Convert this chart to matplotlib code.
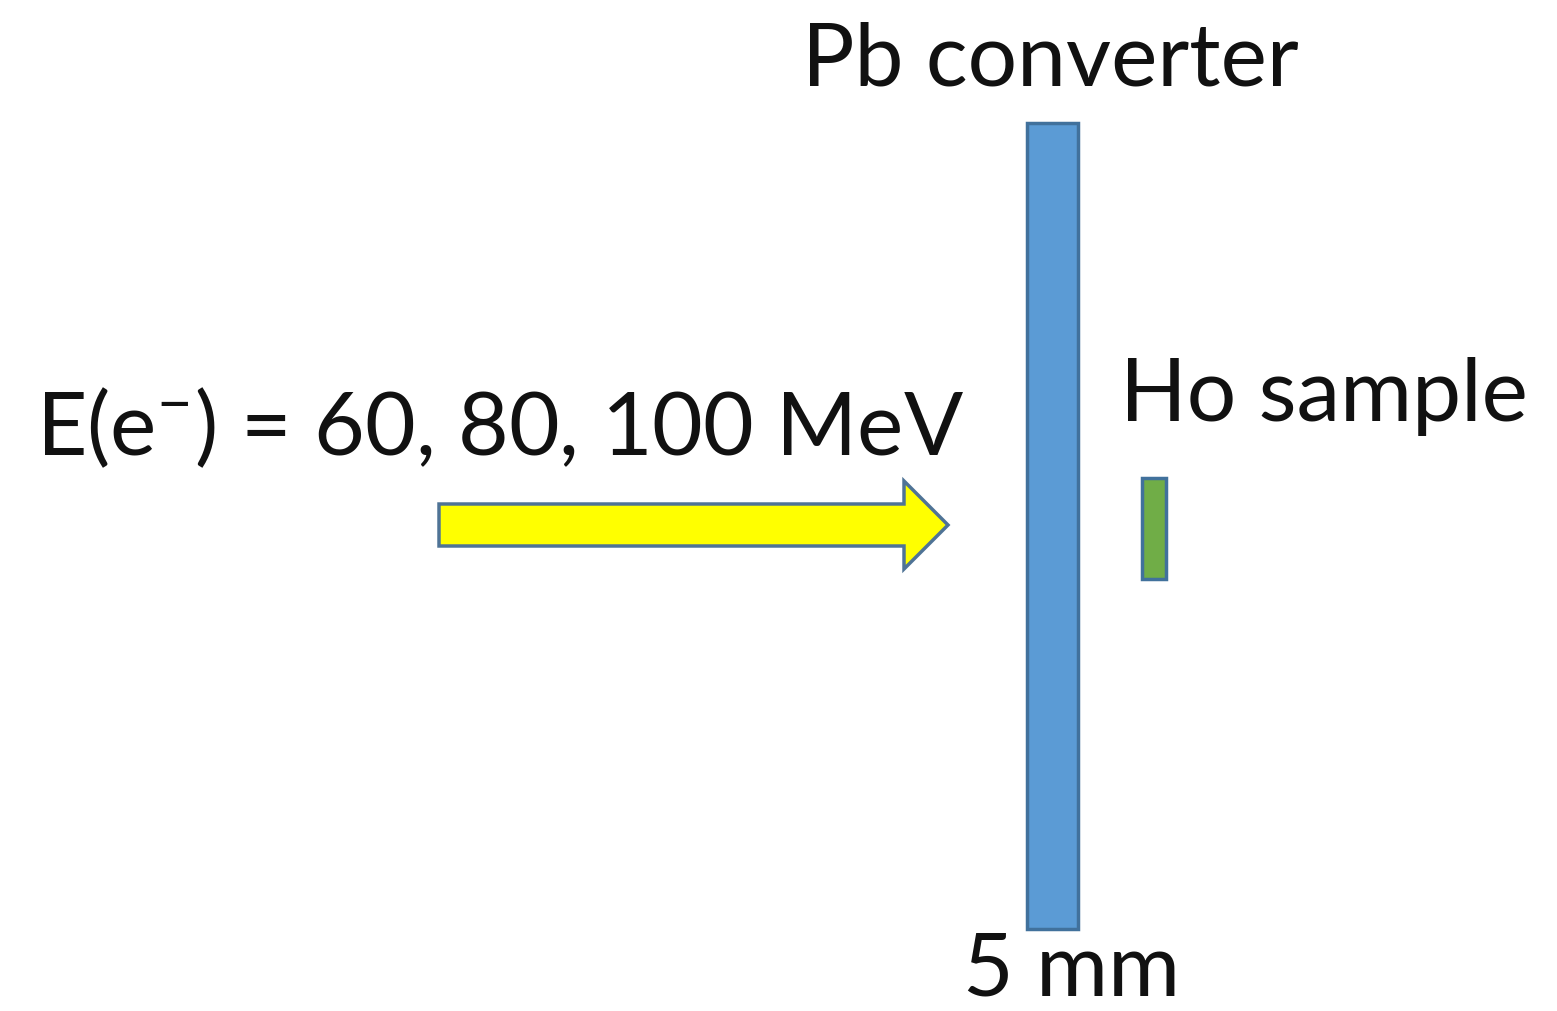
import matplotlib
matplotlib.use("Agg")
import matplotlib.pyplot as plt
from matplotlib.patches import Rectangle, FancyArrow

# labels / values of the schematic
energies = [60, 80, 100]          # MeV
converter_label = "Pb converter"
sample_label = "Ho sample"
thickness_label = "5 mm"

plt.rcParams['font.family'] = ['Lato', 'DejaVu Sans']
plt.rcParams['mathtext.fontset'] = 'custom'
plt.rcParams['mathtext.rm'] = 'Lato'
plt.rcParams['mathtext.it'] = 'Lato:italic'

fig = plt.figure(figsize=(15.57, 10.11), dpi=100)
ax = fig.add_axes([0, 0, 1, 1])
ax.set_xlim(0, 1557)
ax.set_ylim(1011, 0)
ax.axis('off')

edge = '#41719C'

# Pb converter plate
ax.add_patch(Rectangle((1027, 123), 51, 806, facecolor='#5B9BD5',
                       edgecolor=edge, linewidth=2.5))
# Ho sample
ax.add_patch(Rectangle((1142, 478), 24, 101, facecolor='#70AD47',
                       edgecolor=edge, linewidth=2.5))
# electron beam arrow
ax.add_patch(FancyArrow(439, 525, 509, 0, width=42, head_width=88,
                        head_length=44, length_includes_head=True,
                        facecolor='#FFFF00', edgecolor='#4F7396', linewidth=2.5))

fs = 63
ax.text(1050, 86, converter_label, fontsize=fs, ha='center', va='baseline', color='#111111')
ax.text(1120, 421, sample_label, fontsize=fs, ha='left', va='baseline', color='#111111')
etxt = "E(e$^{-}$) = " + ", ".join(str(e) for e in energies) + " MeV"
ax.text(36, 455, etxt, fontsize=fs, ha='left', va='baseline', color='#111111')
ax.text(1072, 1011, thickness_label, fontsize=fs, ha='center', va='bottom', color='#111111')

fig.savefig('out.png', dpi=100)
